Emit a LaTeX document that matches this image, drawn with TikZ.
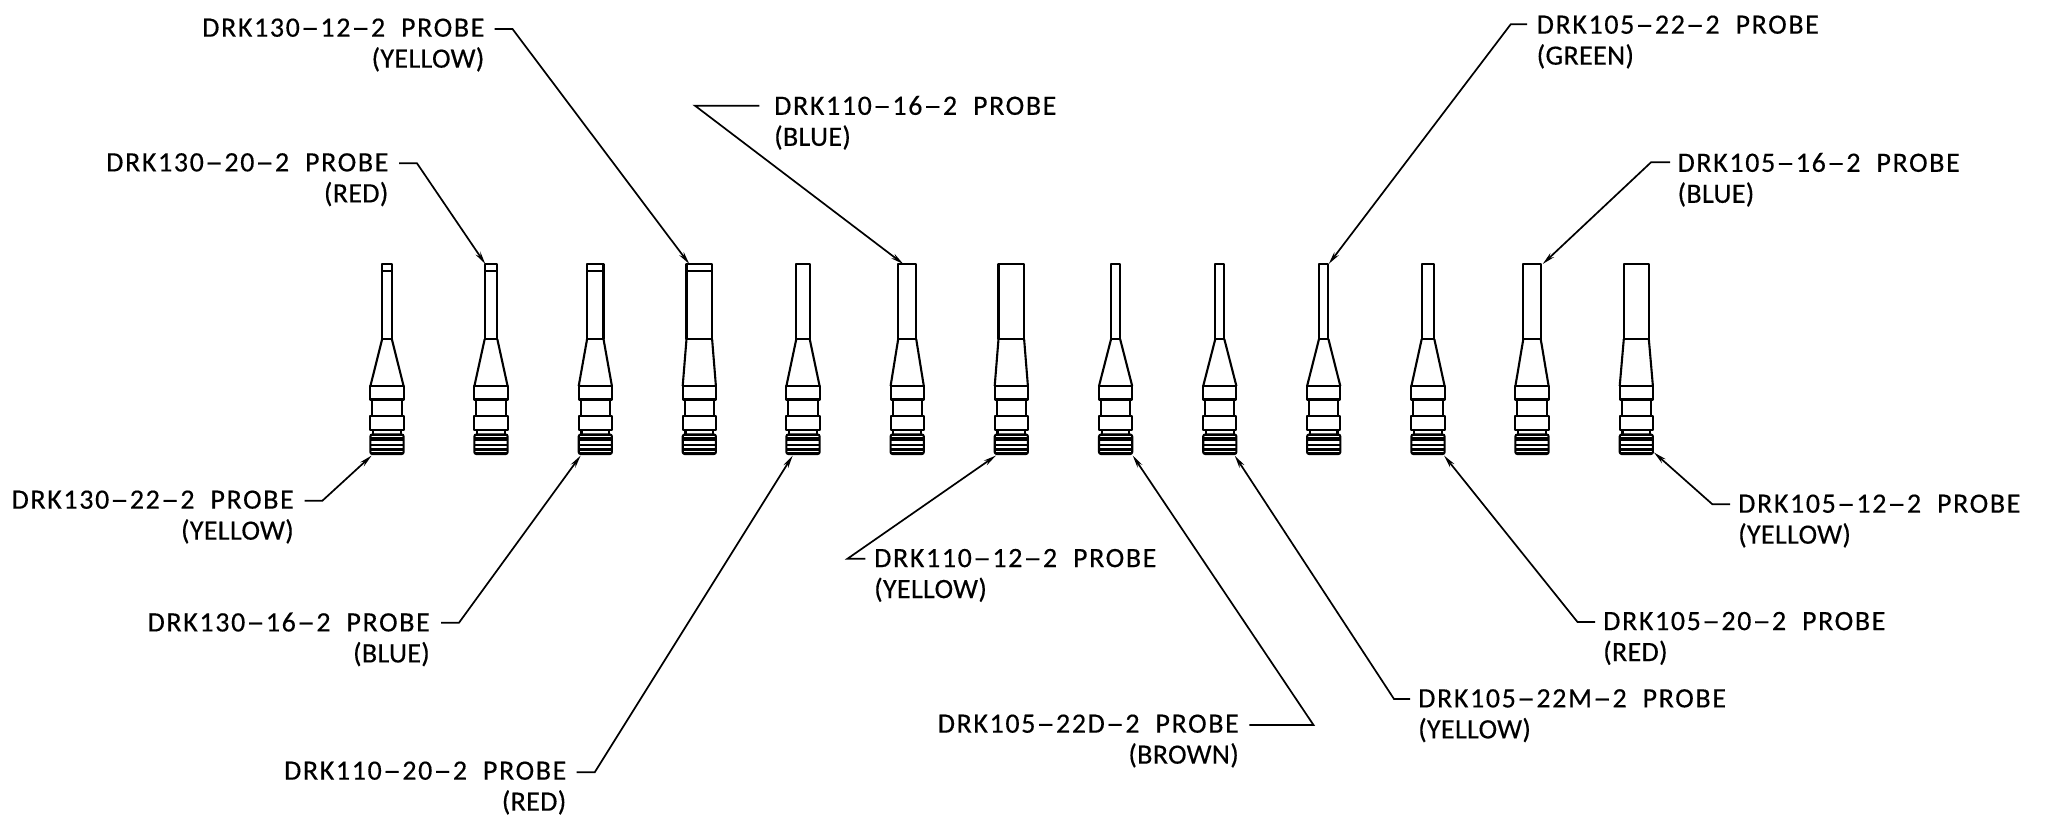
\documentclass[tikz,border=0pt]{standalone}
\usepackage{fontspec}
\usepackage{graphicx}
\setmainfont{Carlito}[LetterSpace=5.8,FakeBold=0.35]
\newfontfamily\plainlab{Carlito}[FakeBold=0.35,LetterSpace=1.2]
\usetikzlibrary{arrows.meta}
\newcommand{\dsh}{\kern1.2pt\scalebox{1.3}[1]{–}\kern1.2pt}
\newcommand{\lab}[2]{#1~~PROBE\\{\plainlab #2}}
\tikzset{
  x=1pt,y=-1pt,
  body/.style={draw=black,line width=2.1pt,line join=round},
  knurlline/.style={draw=black,line width=2.1pt},
  lead/.style={draw=black,line width=1.7pt,line join=miter},
  leadarrow/.style={lead,-{Stealth[length=13pt,width=5.5pt]}},
  lblbase/.style={inner sep=0pt,yshift=1pt,font=\fontsize{28}{31}\selectfont},
  lblR/.style={lblbase,anchor=north east,align=right},
  lblL/.style={lblbase,anchor=north west,align=left},
}
% \probe{centre x}{half width of the tip}{1 = tip has a cap line}
\newcommand{\probe}[3]{%
  \begin{scope}[shift={(#1,0)}]
    \draw[body] (-#2,339) -- (-#2,264) -- (#2,264) -- (#2,339) -- cycle;
    \ifnum#3=1 \draw[body] (-#2,271) -- (#2,271);\fi
    \draw[body] (-#2,339) -- (-16.6,386) (#2,339) -- (16.6,386);
    \draw[body] (-16.6,386) rectangle (16.6,399.5);
    \draw[body] (-14.6,399.5) -- (-14.6,416) (14.6,399.5) -- (14.6,416);
    \draw[body] (-16.6,416) rectangle (16.6,430);
    \draw[body] (-13.8,430) -- (-13.8,434.5) (13.8,430) -- (13.8,434.5);
    \draw[body,rounded corners=2pt] (-16.6,434.5) rectangle (16.6,454);
    \foreach \yy in {434.8,437.6,440.4,445,449.5,452.6}
      \draw[knurlline] (-16.6,\yy) -- (16.6,\yy);
  \end{scope}%
}
\begin{document}
\begin{tikzpicture}
\useasboundingbox (0,0) rectangle (2049,825);
\probe{387}{4.8}{1}
\probe{491}{6.3}{1}
\probe{595.3}{8.2}{1}
\probe{699.3}{12.8}{1}
\probe{803}{6.7}{0}
\probe{907.2}{9}{0}
\probe{1011.3}{12.8}{0}
\probe{1115.6}{4.5}{0}
\probe{1219.8}{4.5}{0}
\probe{1323.7}{4.7}{0}
\probe{1428}{6.3}{0}
\probe{1532}{8.7}{0}
\probe{1636.3}{12.5}{0}
% arrow targets on the probes
\coordinate (t130x12) at (689.3,264);
\coordinate (t130x20) at (485.3,264);
\coordinate (t130x22) at (371.7,455.5);
\coordinate (t130x16) at (580.7,455.5);
\coordinate (t110x20) at (792.7,455.5);
\coordinate (t110x16) at (903.3,264);
\coordinate (t110x12) at (996,455.5);
\coordinate (t105x22d) at (1132.7,455.5);
\coordinate (t105x22m) at (1234.7,455.5);
\coordinate (t105x20) at (1444,455.5);
\coordinate (t105x12) at (1654,452.5);
\coordinate (t105x22) at (1328.7,264);
\coordinate (t105x16) at (1542.7,264);
% labels, right-aligned
\node[lblR] (l130x12) at (484.6,19.3) {\lab{DRK130\dsh 12\dsh 2}{(YELLOW)}};
\node[lblR] (l130x20) at (388.6,154) {\lab{DRK130\dsh 20\dsh 2}{(RED)}};
\node[lblR] (l130x22) at (294,491.3) {\lab{DRK130\dsh 22\dsh 2}{(YELLOW)}};
\node[lblR] (l130x16) at (430,613.3) {\lab{DRK130\dsh 16\dsh 2}{(BLUE)}};
\node[lblR] (l110x20) at (566.5,762.3) {\lab{DRK110\dsh 20\dsh 2}{(RED)}};
\node[lblR] (l105x22d) at (1239,715.3) {\lab{DRK105\dsh 22D\dsh 2}{(BROWN)}};
% labels, left-aligned
\node[lblL] (l110x16) at (774,96.7) {\lab{DRK110\dsh 16\dsh 2}{(BLUE)}};
\node[lblL] (l110x12) at (874,549.7) {\lab{DRK110\dsh 12\dsh 2}{(YELLOW)}};
\node[lblL] (l105x22m) at (1418,690) {\lab{DRK105\dsh 22M\dsh 2}{(YELLOW)}};
\node[lblL] (l105x20) at (1603,612.7) {\lab{DRK105\dsh 20\dsh 2}{(RED)}};
\node[lblL] (l105x12) at (1738,495.3) {\lab{DRK105\dsh 12\dsh 2}{(YELLOW)}};
\node[lblL] (l105x22) at (1536.5,16.3) {\lab{DRK105\dsh 22\dsh 2}{(GREEN)}};
\node[lblL] (l105x16) at (1677.4,153.7) {\lab{DRK105\dsh 16\dsh 2}{(BLUE)}};
% leader start and bend points
\coordinate (s130x12) at (494.6,29);   \coordinate (b130x12) at (512.5,29);
\coordinate (s130x20) at (399,163.3);  \coordinate (b130x20) at (417,163.3);
\coordinate (s130x22) at (304.5,500.7);\coordinate (b130x22) at (322.4,500.7);
\coordinate (s130x16) at (441,622.7);  \coordinate (b130x16) at (459,622.7);
\coordinate (s110x20) at (576.7,772.3);\coordinate (b110x20) at (594.7,772.3);
\coordinate (s110x16) at (759.3,105.7);\coordinate (b110x16) at (695,105.7);
\coordinate (s110x12) at (865.4,558.7);\coordinate (b110x12) at (847.5,558.7);
\coordinate (s105x22d) at (1249.3,725);\coordinate (b105x22d) at (1313.5,725);
\coordinate (s105x22m) at (1410,699);  \coordinate (b105x22m) at (1394,699);
\coordinate (s105x20) at (1595,622);   \coordinate (b105x20) at (1577.5,622);
\coordinate (s105x12) at (1730,504.3); \coordinate (b105x12) at (1712.4,504.3);
\coordinate (s105x22) at (1527,24.3);  \coordinate (b105x22) at (1510.7,24.3);
\coordinate (s105x16) at (1670,162.3); \coordinate (b105x16) at (1651,162.3);
\foreach \k in {130x12,130x20,130x22,130x16,110x20,110x16,110x12,105x22d,105x22m,105x20,105x12,105x22,105x16}
  \draw[leadarrow] (s\k) -- (b\k) -- (t\k);
\end{tikzpicture}
\end{document}
